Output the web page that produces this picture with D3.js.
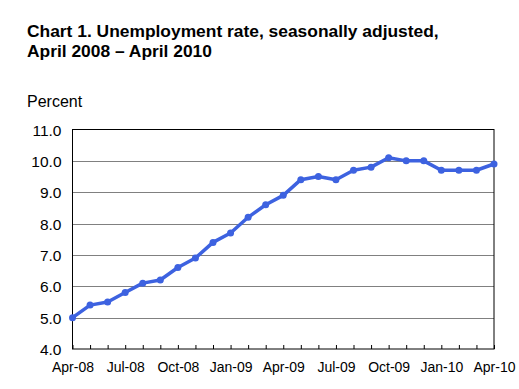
<!DOCTYPE html>
<html>
<head>
<meta charset="utf-8">
<script src="https://cdn.jsdelivr.net/npm/d3@7"></script>
<style>
  body { margin: 0; background: #fff; }
  text { font-family: Arial, "Liberation Sans", sans-serif; fill: #000; }
</style>
</head>
<body>
<div class="line_chart"></div>
<script>
// monthly values, Apr-08 .. Apr-10
const months = ["Apr-08", "May-08", "Jun-08", "Jul-08", "Aug-08", "Sep-08", "Oct-08", "Nov-08", "Dec-08",
  "Jan-09", "Feb-09", "Mar-09", "Apr-09", "May-09", "Jun-09", "Jul-09", "Aug-09", "Sep-09", "Oct-09",
  "Nov-09", "Dec-09", "Jan-10", "Feb-10", "Mar-10", "Apr-10"];
const rates = [5.0, 5.4, 5.5, 5.8, 6.1, 6.2, 6.6, 6.9, 7.4, 7.7, 8.2, 8.6, 8.9, 9.4, 9.5, 9.4, 9.7, 9.8,
  10.1, 10.0, 10.0, 9.7, 9.7, 9.7, 9.9];
const yTicks = [4, 5, 6, 7, 8, 9, 10, 11];
const xLabels = ["Apr-08", "Jul-08", "Oct-08", "Jan-09", "Apr-09", "Jul-09", "Oct-09", "Jan-10", "Apr-10"];

const width = 519, height = 389;
const margin = { top: 129.5, right: 25, bottom: 40, left: 72.5 };
const lineColor = "#3d62e0";

const svg = d3.select(".line_chart")
  .append("svg")
  .attr("width", width)
  .attr("height", height);

// title
svg.append("text")
  .attr("x", 27).attr("y", 37)
  .attr("font-size", "17.4px").attr("font-weight", "bold")
  .text("Chart 1. Unemployment rate, seasonally adjusted,");
svg.append("text")
  .attr("x", 27).attr("y", 57)
  .attr("font-size", "17.4px").attr("font-weight", "bold")
  .text("April 2008 \u2013 April 2010");

svg.append("text")
  .attr("x", 27).attr("y", 107)
  .attr("font-size", "16px")
  .text("Percent");

const x = d3.scalePoint()
  .domain(months)
  .range([margin.left, width - margin.right]);

const y = d3.scaleLinear()
  .domain([4, 11])
  .range([height - margin.bottom, margin.top]);

// gridlines
svg.append("g")
  .selectAll("line")
  .data(yTicks.filter((d) => d > 4 && d < 11))
  .join("line")
  .attr("x1", margin.left).attr("x2", width - margin.right)
  .attr("y1", (d) => Math.round(y(d)) + 0.5).attr("y2", (d) => Math.round(y(d)) + 0.5)
  .attr("stroke", "#808080");

// plot frame
svg.append("rect")
  .attr("x", margin.left).attr("y", margin.top)
  .attr("width", width - margin.right - margin.left)
  .attr("height", height - margin.bottom - margin.top)
  .attr("fill", "none")
  .attr("stroke", "#000");

// y axis labels
const yAxis = d3.axisLeft(y)
  .tickValues(yTicks)
  .tickFormat(d3.format(".1f"))
  .tickSize(0)
  .tickPadding(11);

svg.append("g")
  .attr("transform", `translate(${margin.left},0)`)
  .call(yAxis)
  .call((g) => g.select(".domain").remove())
  .selectAll("text")
  .attr("font-size", "15.5px")
  .attr("font-family", "Arial, 'Liberation Sans', sans-serif")
  .attr("dy", "0.36em");

// x axis: inward ticks every month, labels every quarter
const xAxis = d3.axisBottom(x)
  .tickSize(-4)
  .tickPadding(13)
  .tickFormat((d) => (xLabels.includes(d) ? d : ""));

svg.append("g")
  .attr("transform", `translate(0,${height - margin.bottom})`)
  .call(xAxis)
  .call((g) => g.select(".domain").remove())
  .call((g) => g.selectAll(".tick line").attr("stroke", "#000"))
  .selectAll("text")
  .attr("font-size", "14px")
  .attr("font-family", "Arial, 'Liberation Sans', sans-serif");

// series line
const line = d3.line()
  .x((d, i) => x(months[i]))
  .y((d) => y(d));

svg.append("path")
  .datum(rates)
  .attr("d", line)
  .attr("fill", "none")
  .attr("stroke", lineColor)
  .attr("stroke-width", 3.5)
  .attr("stroke-linejoin", "round");

svg.append("g")
  .selectAll("circle")
  .data(rates)
  .join("circle")
  .attr("cx", (d, i) => x(months[i]))
  .attr("cy", (d) => y(d))
  .attr("r", 3.5)
  .attr("fill", lineColor);
</script>
</body>
</html>
